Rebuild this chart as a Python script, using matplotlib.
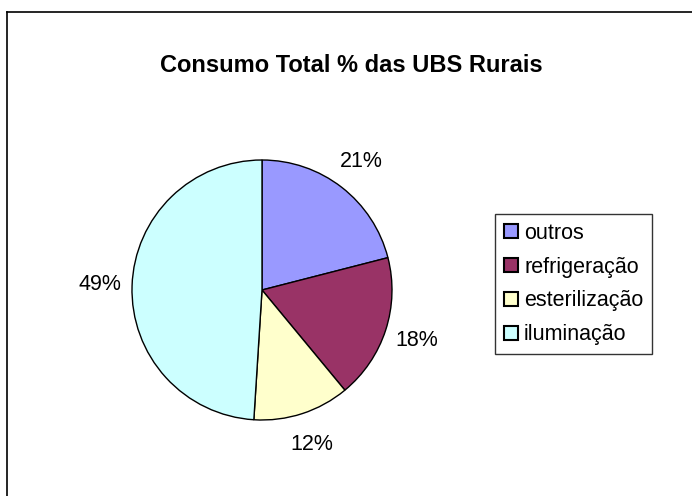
import matplotlib
matplotlib.use("Agg")
import matplotlib.pyplot as plt
from matplotlib.lines import Line2D

categories = ["outros", "refrigeração", "esterilização", "iluminação"]
values = [21, 18, 12, 49]
colors = ["#9999FF", "#993366", "#FFFFCC", "#CCFFFF"]
title = "Consumo Total % das UBS Rurais"

plt.rcParams['font.family'] = ['Liberation Sans', 'DejaVu Sans']

W, H = 692, 496
fig = plt.figure(figsize=(W / 100, H / 100), dpi=100)
fig.patch.set_facecolor("white")

cx, cy, r = 262, 290, 130
ax = fig.add_axes([(cx - r) / W, 1 - (cy + r) / H, 2 * r / W, 2 * r / H])
wedges, texts, autotexts = ax.pie(
    values, colors=colors, startangle=90, counterclock=False,
    autopct=lambda p: f"{p:.0f}%", pctdistance=1.25,
    wedgeprops=dict(edgecolor="black", linewidth=1.0),
    textprops=dict(fontsize=15.5, color="black"), radius=1.0)
ax.set_xlim(-1, 1)
ax.set_ylim(-1, 1)
ax.set_aspect("auto")
ax.axis("off")

fig.text(351 / W, 1 - 66 / H, title, ha="center", va="center",
         fontsize=17, fontweight="bold")

leg = fig.legend(wedges, categories, loc="upper left",
                 bbox_to_anchor=(495 / W, 1 - 214 / H), bbox_transform=fig.transFigure,
                 frameon=True, fancybox=False, edgecolor="black", fontsize=15.5,
                 handlelength=0.65, handleheight=0.65, handletextpad=0.3,
                 borderpad=0.4, labelspacing=0.6, borderaxespad=0)
leg.get_frame().set_linewidth(1.0)
for h in leg.legend_handles:
    h.set_edgecolor("black")
    h.set_linewidth(1.5)

fig.add_artist(Line2D([6.5 / W, 1], [1 - 11.5 / H, 1 - 11.5 / H], transform=fig.transFigure,
                      color="black", linewidth=1.2))
fig.add_artist(Line2D([6.5 / W, 6.5 / W], [0, 1 - 11.5 / H], transform=fig.transFigure,
                      color="black", linewidth=1.2))

fig.savefig("out.png", dpi=100, facecolor="white")
